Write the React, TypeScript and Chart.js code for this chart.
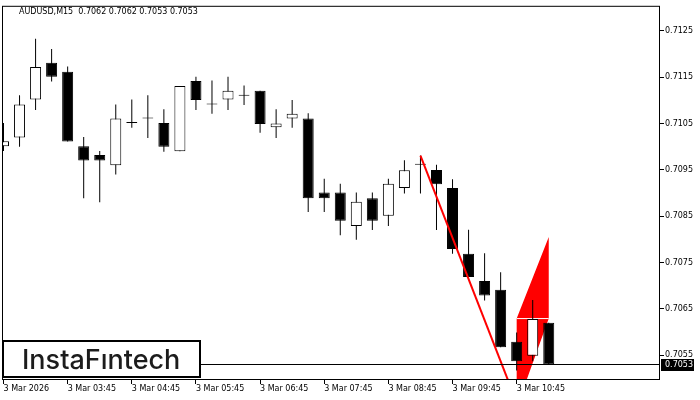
import React, { useEffect, useRef } from 'react';
import { Chart, registerables } from 'chart.js';

Chart.register(...registerables);

// ---- data ----
const symbolLabel = 'AUDUSD,M15';
const candleIndex = [
  0, 1, 2, 3, 4, 5, 6, 7, 8, 9, 10, 11, 12, 13, 14, 15, 16, 17,
  18, 19, 20, 21, 22, 23, 24, 25, 26, 27, 28, 29, 30, 31, 32, 33, 34,
];
const opens = [
  0.71001, 0.7102, 0.71102, 0.71181, 0.71162, 0.71001, 0.70982, 0.7096, 0.71051,
  0.71061, 0.71051, 0.7099, 0.71142, 0.71091, 0.71102, 0.7111, 0.71121, 0.71042,
  0.71061, 0.71061, 0.70901, 0.70901, 0.70829, 0.70889, 0.70851, 0.70911, 0.70961,
  0.7095, 0.70911, 0.70769, 0.7071, 0.70691, 0.70579, 0.70549, 0.7062,
];
const highs = [
  0.71051, 0.71111, 0.71233, 0.71211, 0.71173, 0.71021, 0.70991, 0.71091, 0.71102,
  0.71111, 0.71081, 0.71131, 0.71151, 0.71143, 0.71151, 0.71132, 0.71121, 0.71081,
  0.71101, 0.71072, 0.70931, 0.7092, 0.70901, 0.70901, 0.70931, 0.70971, 0.70981,
  0.70961, 0.7093, 0.70821, 0.7077, 0.70729, 0.70599, 0.70669, 0.7062,
];
const lows = [
  0.70991, 0.71, 0.71079, 0.71141, 0.71011, 0.70889, 0.7088, 0.7094, 0.71041,
  0.71019, 0.70989, 0.7099, 0.71079, 0.71071, 0.71079, 0.7109, 0.7103, 0.71019,
  0.71041, 0.70859, 0.70859, 0.70809, 0.70799, 0.7082, 0.70829, 0.70899, 0.70899,
  0.7082, 0.70769, 0.70719, 0.70668, 0.70567, 0.70517, 0.70537, 0.7053,
];
const closes = [
  0.71012, 0.71091, 0.71172, 0.71151, 0.71011, 0.7097, 0.7097, 0.71061, 0.71051,
  0.71061, 0.71, 0.71131, 0.71101, 0.71091, 0.71121, 0.7111, 0.71049, 0.7105,
  0.71071, 0.70889, 0.70889, 0.7084, 0.70881, 0.7084, 0.7092, 0.70949, 0.70961,
  0.70919, 0.70779, 0.70719, 0.70679, 0.70567, 0.70537, 0.70628, 0.7053,
];
const xTickIndex = [0, 4, 8, 12, 16, 20, 24, 28, 32];
const xTickLabels = [
  '3 Mar 2026', '3 Mar 03:45', '3 Mar 04:45', '3 Mar 05:45', '3 Mar 06:45',
  '3 Mar 07:45', '3 Mar 08:45', '3 Mar 09:45', '3 Mar 10:45',
];
const yTickValues = [0.7055, 0.7065, 0.7075, 0.7085, 0.7095, 0.7105, 0.7115, 0.7125];
const currentPrice = 0.7053;
const poleX = [26, 32];
const poleY = [0.70981, 0.70448];
const flagX = [32, 34, 34, 32];
const flagY = [0.70629, 0.70805, 0.70629, 0.70437];
const xRange = [-0.09375, 40.9375];
const yRange = [0.704964, 0.713042];
const brandText = 'InstaF\u0131ntech';

const FONT = 'DejaVu Sans';

const overlayPlugin = {
  id: 'overlay',
  afterDraw(chart: any) {
    const ctx = chart.ctx;
    const { left, top, right, bottom } = chart.chartArea;
    const yScale = chart.scales.y;
    const py = yScale.getPixelForValue(currentPrice);
    ctx.save();
    // current price line
    ctx.strokeStyle = '#000';
    ctx.lineWidth = 1;
    ctx.beginPath();
    ctx.moveTo(left, Math.floor(py) + 0.5);
    ctx.lineTo(right, Math.floor(py) + 0.5);
    ctx.stroke();
    // frame
    ctx.strokeRect(left + 0.5, top + 0.5, right - left - 1, bottom - top - 1);
    // title
    const n = opens.length - 1;
    const title = `${symbolLabel}  ${opens[n].toFixed(4)} ${highs[n].toFixed(4)} ${lows[n].toFixed(4)} ${closes[n].toFixed(4)}`;
    ctx.fillStyle = '#000';
    ctx.font = `8px "${FONT}"`;
    ctx.textBaseline = 'alphabetic';
    ctx.textAlign = 'left';
    ctx.fillText(title, 19, 13.5);
    // price label
    ctx.fillStyle = '#000';
    ctx.fillRect(right + 1, Math.floor(py) - 5, 33, 12);
    ctx.fillStyle = '#fff';
    ctx.textBaseline = 'middle';
    ctx.fillText(currentPrice.toFixed(4), right + 5, Math.floor(py) + 1);
    // logo
    ctx.fillStyle = '#fff';
    ctx.fillRect(3, 341, 197, 36);
    ctx.lineWidth = 2;
    ctx.strokeStyle = '#000';
    ctx.strokeRect(3, 341, 197, 36);
    ctx.fillStyle = '#1c1c1c';
    ctx.font = `500 27px "Inter"`;
    ctx.textBaseline = 'alphabetic';
    ctx.fillText(brandText, 22, 369, 159);
    ctx.restore();
  },
};

export default function App() {
  const canvasRef = useRef<HTMLCanvasElement | null>(null);

  useEffect(() => {
    if (!canvasRef.current) return;
    const wickData = candleIndex.map((i) => ({ x: i, y: [lows[i], highs[i]] }));
    const bodyData = candleIndex.map((i) => ({
      x: i,
      y: [Math.min(opens[i], closes[i]), Math.max(opens[i], closes[i])],
    }));
    const bodyColors = candleIndex.map((i) => (closes[i] > opens[i] ? '#ffffff' : '#000000'));

    const chart = new Chart(canvasRef.current, {
      type: 'bar',
      data: {
        datasets: [
          {
            type: 'line',
            data: flagX.map((x, k) => ({ x, y: flagY[k] })),
            borderWidth: 0,
            borderColor: 'rgba(0,0,0,0)',
            backgroundColor: '#ff0000',
            fill: 'shape',
            pointRadius: 0,
            tension: 0,
            order: 5,
            clip: 0,
          } as any,
          {
            type: 'line',
            data: [
              { x: flagX[0], y: flagY[0] },
              { x: flagX[2], y: flagY[2] },
            ],
            borderWidth: 1,
            borderColor: '#ffffff',
            pointRadius: 0,
            fill: false,
            order: 4,
            clip: 0,
          } as any,
          {
            type: 'bar',
            data: wickData,
            backgroundColor: '#000',
            borderWidth: 0,
            barThickness: 1,
            grouped: false,
            inflateAmount: 0,
            order: 3,
          } as any,
          {
            type: 'bar',
            data: bodyData,
            backgroundColor: bodyColors,
            borderColor: '#000',
            borderWidth: 1,
            borderSkipped: false,
            barThickness: 11,
            minBarLength: 1,
            grouped: false,
            inflateAmount: 0,
            order: 2,
          } as any,
          {
            type: 'line',
            data: poleX.map((x, k) => ({ x, y: poleY[k] })),
            borderWidth: 2,
            borderColor: '#ff0000',
            pointRadius: 0,
            fill: false,
            order: 1,
            clip: 0,
          } as any,
        ],
      },
      options: {
        animation: false,
        responsive: false,
        devicePixelRatio: 1,
        layout: { padding: { left: 2, top: 3, right: 0, bottom: 0 } },
        plugins: { legend: { display: false }, tooltip: { enabled: false }, title: { display: false } },
        events: [],
        scales: {
          x: {
            type: 'linear',
            min: xRange[0],
            max: xRange[1],
            offset: false,
            grid: { display: true, drawOnChartArea: false, drawTicks: true, tickLength: 4, color: '#000', offset: false },
            border: { display: false },
            ticks: {
              autoSkip: false,
              maxRotation: 0,
              align: 'start',
              padding: 0,
              color: '#000',
              font: { family: FONT, size: 8 },
              callback: (v: any) => {
                const k = xTickIndex.indexOf(Number(v));
                return k >= 0 ? xTickLabels[k] : '';
              },
            },
            afterBuildTicks: (scale: any) => {
              scale.ticks = xTickIndex.map((v) => ({ value: v }));
            },
            afterFit: (scale: any) => {
              scale.height = 20;
            },
          },
          y: {
            type: 'linear',
            position: 'right',
            min: yRange[0],
            max: yRange[1],
            grid: { display: true, drawOnChartArea: false, drawTicks: true, tickLength: 4, color: '#000' },
            border: { display: false },
            ticks: {
              padding: 1,
              color: '#000',
              font: { family: FONT, size: 8 },
              callback: (v: any) => Number(v).toFixed(4),
            },
            afterBuildTicks: (scale: any) => {
              scale.ticks = yTickValues.map((v) => ({ value: v }));
            },
            afterFit: (scale: any) => {
              scale.width = 40;
            },
          },
        },
      } as any,
      plugins: [overlayPlugin],
    });
    return () => chart.destroy();
  }, []);

  return (
    <div style={{ position: 'fixed', left: 0, top: 0, width: 700, height: 400, background: '#fff' }}>
      <canvas ref={canvasRef} width={700} height={400} style={{ display: 'block' }} />
    </div>
  );
}
